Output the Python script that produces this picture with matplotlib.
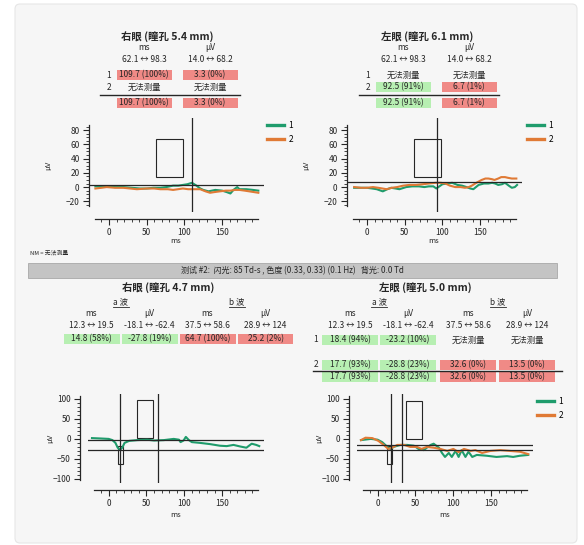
from __future__ import annotations

import matplotlib

matplotlib.use("Agg")

import matplotlib.pyplot as plt
import numpy as np
from matplotlib.lines import Line2D
from matplotlib.patches import FancyBboxPatch, Rectangle

plt.rcParams["font.family"] = ["Noto Sans CJK SC", "DejaVu Sans"]

W, H = 584, 545
INK = "#262626"
TRACE_1 = "#1f9c6c"
TRACE_2 = "#e07a35"
BAD = "#f08a86"
OK = "#b7efb2"

# ---- flash response traces (ms, uV) ----
od_flash_ms_1 = [-18, -4, 8, 19, 30, 41, 50, 59, 68, 76, 85, 92, 98, 104, 110, 116, 121, 125, 132, 141, 150, 156, 161, 165, 170, 173, 182, 191, 198]
od_flash_uv_1 = [1, 1, 0, 0, -1, -2, -2, -1, -1, 0, 2, 2, 3, 4, 6, 2, -2, -4, -6, -4, -5, -7, -9, -4, 0, -3, -3, -4, -5]
od_flash_ms_2 = [-18, -10, -3, 8, 19, 28, 37, 50, 60, 68, 78, 85, 98, 105, 112, 121, 128, 134, 140, 147, 155, 161, 167, 173, 180, 186, 192, 198]
od_flash_uv_2 = [-2, -1, 0, -1, -1, -2, -3, -2, -2, -3, -3, -4, -2, -3, -3, -3, -6, -8, -7, -6, -5, -5, -4, -4, -5, -6, -7, -8]

os_flash_ms_1 = [-17, -8, 0, 7, 13, 21, 27, 32, 38, 43, 52, 60, 69, 76, 82, 88, 92, 96, 100, 106, 113, 120, 126, 132, 137, 141, 148, 155, 161, 166, 170, 174, 179, 183, 188, 192, 196, 199]
os_flash_uv_1 = [-1, -1, -1, -2, -3, -6, -3, -1, -2, -3, 0, 1, 1, 0, 1, 1, -2, 1, 4, 5, 6, 3, 2, 0, -2, -3, 3, 5, 5, 6, 5, 3, 4, 6, 2, -1, 0, 3]
os_flash_ms_2 = [-17, -8, 0, 8, 15, 26, 33, 40, 48, 56, 65, 74, 82, 91, 98, 104, 110, 117, 124, 130, 135, 139, 145, 152, 157, 161, 166, 169, 174, 178, 183, 187, 192, 198]
os_flash_uv_2 = [0, -1, -1, 0, -1, -3, -1, 0, 2, 3, 3, 4, 5, 6, 6, 5, 2, 0, 0, -1, 0, 2, 6, 10, 12, 12, 11, 10, 12, 14, 14, 13, 12, 12]

# ---- a/b wave traces (ms, uV) ----
od_ab_ms_1 = [-22, -10, 0, 5, 9, 12, 15, 18, 21, 27, 38, 51, 60, 73, 86, 93, 95, 99, 102, 106, 110, 121, 134, 147, 156, 165, 174, 182, 189, 195, 199]
od_ab_uv_1 = [2, 1, 0, -3, -10, -22, -27, -22, -10, -5, -3, -2, -4, -3, 0, -2, -8, -4, 5, -3, -8, -10, -13, -17, -18, -15, -19, -22, -12, -15, -18]

os_ab_ms_1 = [-22, -9, 0, 6, 13, 17, 21, 30, 39, 48, 54, 61, 65, 70, 74, 81, 85, 89, 94, 98, 103, 107, 111, 116, 120, 125, 131, 144, 157, 171, 179, 188, 199]
os_ab_uv_1 = [-3, 0, -2, -8, -20, -25, -20, -15, -15, -17, -25, -28, -22, -15, -12, -22, -35, -45, -35, -45, -30, -45, -28, -45, -32, -45, -40, -42, -45, -43, -45, -42, -40]
os_ab_ms_2 = [-22, -16, -7, 1, 8, 14, 19, 26, 35, 43, 52, 58, 65, 74, 83, 92, 100, 107, 114, 123, 129, 138, 149, 162, 175, 188, 199]
os_ab_uv_2 = [-3, 3, 2, -5, -15, -25, -22, -15, -15, -20, -20, -25, -20, -22, -25, -30, -25, -33, -25, -30, -28, -35, -30, -28, -30, -32, -38]

# ---- measurement markers ----
flash_norm_ms = (62.1, 98.3)
flash_norm_uv = (14.0, 68.2)
od_flash_peak = (109.7, 3.3)
os_flash_peak = (92.5, 6.7)

a_norm_ms = (12.3, 19.5)
a_norm_uv = (-18.1, -62.4)
b_norm_ms = (37.5, 58.6)
b_norm_uv = (28.9, 124.0)
od_ab_times = (14.8, 64.7)
od_ab_amps = (-27.8, 25.2)
os_ab_times = (17.7, 32.6)
os_ab_amps = (-28.8, 13.5)

# ---- tables ----
flash_units = ["ms", "μV"]
flash_ranges = ["62.1 ↔ 98.3", "14.0 ↔ 68.2"]
od_flash_title = "右眼 (瞳孔 5.4 mm)"
od_flash_rows = [["109.7 (100%)", "3.3 (0%)"], ["无法测量", "无法测量"], ["109.7 (100%)", "3.3 (0%)"]]
od_flash_state = [[BAD, BAD], [None, None], [BAD, BAD]]
os_flash_title = "左眼 (瞳孔 6.1 mm)"
os_flash_rows = [["无法测量", "无法测量"], ["92.5 (91%)", "6.7 (1%)"], ["92.5 (91%)", "6.7 (1%)"]]
os_flash_state = [[None, None], [OK, BAD], [OK, BAD]]

ab_units = ["ms", "μV", "ms", "μV"]
ab_ranges = ["12.3 ↔ 19.5", "-18.1 ↔ -62.4", "37.5 ↔ 58.6", "28.9 ↔ 124"]
od_ab_title = "右眼 (瞳孔 4.7 mm)"
od_ab_rows = [["14.8 (58%)", "-27.8 (19%)", "64.7 (100%)", "25.2 (2%)"]]
od_ab_state = [[OK, OK, BAD, BAD]]
os_ab_title = "左眼 (瞳孔 5.0 mm)"
os_ab_rows = [["18.4 (94%)", "-23.2 (10%)", "无法测量", "无法测量"],
              ["17.7 (93%)", "-28.8 (23%)", "32.6 (0%)", "13.5 (0%)"],
              ["17.7 (93%)", "-28.8 (23%)", "32.6 (0%)", "13.5 (0%)"]]
os_ab_state = [[OK, OK, None, None], [OK, OK, BAD, BAD], [OK, OK, BAD, BAD]]

banner = "测试 #2:  闪光: 85 Td-s , 色度 (0.33, 0.33) (0.1 Hz)   背光: 0.0 Td"

fig = plt.figure(figsize=(W / 100, H / 100), dpi=100)
fig.patch.set_facecolor("white")
fig.add_artist(FancyBboxPatch((0.15, 0.02), 5.62, 5.39, boxstyle="round,pad=0,rounding_size=0.05",
                              transform=fig.dpi_scale_trans, fc="#f6f6f6", ec="#e6e6e6", lw=0.8, zorder=-10))


def fxy(x: float, y: float) -> tuple[float, float]:
    return x / W, 1 - y / H


def txt(x: float, y: float, s: str, size: float = 6.0, **kw) -> None:
    kw.setdefault("ha", "center")
    fig.text(*fxy(x, y), s, va="center", fontsize=size, color=INK, **kw)


def hline(x0: float, x1: float, y: float, lw: float = 1.0) -> None:
    fig.add_artist(Line2D([x0 / W, x1 / W], [1 - y / H] * 2, transform=fig.transFigure, color=INK, lw=lw))


def cell(xc: float, y: float, s: str, color: str | None, w: float = 55, h: float = 10) -> None:
    if color:
        fig.add_artist(Rectangle(fxy(xc - w / 2, y + h / 2), w / W, h / H, transform=fig.transFigure,
                                 fc=color, ec="none", zorder=0))
    txt(xc, y, s)


def flash_table(cx: float, cols: list[float], num_x: float, title: str, rows, state) -> None:
    txt(cx, 37, title, size=7.5, weight="bold")
    for xc, unit, rng in zip(cols, flash_units, flash_ranges):
        txt(xc, 48, unit)
        txt(xc, 60, rng)
    for r, y in enumerate([75, 87, 103]):
        if r < 2:
            txt(num_x, y, str(r + 1))
        for xc, s, c in zip(cols, rows[r], state[r]):
            cell(xc, y, s, c)
    hline(num_x - 9, cols[-1] + 30, 95)


def ab_table(cx: float, cols: list[float], title: str, rows, state, row_y, num_x=None) -> None:
    txt(cx, 288, title, size=7.5, weight="bold")
    for i, wave in enumerate(["a 波", "b 波"]):
        xc = (cols[2 * i] + cols[2 * i + 1]) / 2
        txt(xc, 302, wave)
        hline(xc - 8, xc + 8, 307, lw=0.6)
    for xc, unit, rng in zip(cols, ab_units, ab_ranges):
        txt(xc, 313, unit)
        txt(xc, 326, rng)
    for r, y in enumerate(row_y):
        if num_x is not None and r < 2:
            txt(num_x, y, str(r + 1))
        for xc, s, c in zip(cols, rows[r], state[r]):
            cell(xc, y, s, c, w=56)


def make_axes(left: float, top: float, width: float, height: float) -> plt.Axes:
    return fig.add_axes([left / W, 1 - (top + height) / H, width / W, height / H])


def style_axes(ax, ylim, ybounds, ymajor, yminor, yoffset, label_x, label_y) -> None:
    ax.patch.set_alpha(0)
    ax.set_xlim(-27, 205)
    ax.set_ylim(*ylim)
    for side in ("top", "right"):
        ax.spines[side].set_visible(False)
    ax.spines["bottom"].set_bounds(-19, 197)
    ax.spines["bottom"].set_position(("outward", 5))
    ax.spines["left"].set_bounds(*ybounds)
    ax.spines["left"].set_position(("outward", yoffset))
    for sp in ax.spines.values():
        sp.set_color(INK)
        sp.set_linewidth(0.9)
    ax.set_xticks([0, 50, 100, 150])
    ax.set_xticks(np.arange(-10, 200, 10), minor=True)
    ax.set_yticks(ymajor)
    ax.set_yticks(yminor, minor=True)
    ax.tick_params(which="major", length=4.5, width=0.8, labelsize=6, pad=2, colors=INK)
    ax.tick_params(which="minor", length=2.5, width=0.6, colors=INK)
    ax.set_xlabel("ms", fontsize=5.5, color=INK)
    ax.set_ylabel("μV", fontsize=5.5, color=INK)
    bb = ax.get_position()
    ax.xaxis.set_label_coords(0.5, (1 - label_y / H - bb.y0) / bb.height)
    ax.yaxis.set_label_coords((label_x / W - bb.x0) / bb.width, 0.5)


def add_legend(ax, x: float, y: float) -> None:
    leg = ax.legend(loc="upper left", bbox_to_anchor=fxy(x, y), bbox_transform=fig.transFigure,
                    frameon=False, fontsize=6, handlelength=2.0, handletextpad=0.6,
                    labelspacing=0.6, borderpad=0, borderaxespad=0)
    for line in leg.get_lines():
        line.set_linewidth(2.4)


def box(ax, ms, uv) -> None:
    ax.add_patch(Rectangle((ms[0], min(uv)), ms[1] - ms[0], abs(uv[1] - uv[0]),
                           fill=False, ec=INK, lw=0.8))


# ---- top tables ----
flash_table(167, [144, 210], 109, od_flash_title, od_flash_rows, od_flash_state)
flash_table(427, [403, 469], 368, os_flash_title, os_flash_rows, os_flash_state)

# ---- flash plots ----
for left, peak, traces, legend in [
    (88.6, od_flash_peak, [(od_flash_ms_1, od_flash_uv_1), (od_flash_ms_2, od_flash_uv_2)], 267),
    (346.6, os_flash_peak, [(os_flash_ms_1, os_flash_uv_1), (os_flash_ms_2, os_flash_uv_2)], 527),
]:
    ax = make_axes(left, 118, 175, 94)
    style_axes(ax, (-35, 97), (-27, 87), np.arange(-20, 81, 20), np.arange(-25, 86, 5), 0, left - 36, 237)
    for (ms, uv), color, lab in zip(traces, [TRACE_1, TRACE_2], ["1", "2"]):
        ax.plot(ms, uv, color=color, lw=1.5, label=lab)
    ax.axvline(peak[0], color=INK, lw=0.9)
    ax.axhline(peak[1], color=INK, lw=0.9)
    box(ax, flash_norm_ms, flash_norm_uv)
    add_legend(ax, legend, 121)

# ---- middle banner ----
txt(30, 253, "NM = 无法测量", size=4.2, ha="left")
fig.add_artist(Rectangle(fxy(28, 278), 529 / W, 15 / H, transform=fig.transFigure,
                         fc="#c4c4c4", ec="#a8a8a8", lw=0.6))
txt(292, 270.5, banner, size=5.8)

# ---- bottom tables ----
ab_table(168, [91.5, 149.5, 207.5, 265.5], od_ab_title, od_ab_rows, od_ab_state, [338.5])
ab_table(425, [350, 408, 468, 527], os_ab_title, os_ab_rows, os_ab_state, [340, 364.5, 376.5], num_x=316)
hline(313, 562, 370.5)

# ---- a/b plots ----
for left, times, amps, traces in [
    (88.2, od_ab_times, od_ab_amps, [(od_ab_ms_1, od_ab_uv_1)]),
    (357.2, os_ab_times, os_ab_amps, [(os_ab_ms_1, os_ab_uv_1), (os_ab_ms_2, os_ab_uv_2)]),
]:
    ax = make_axes(left, 394, 175.6, 89)
    style_axes(ax, (-110, 112), (-103, 106), np.arange(-100, 101, 50), np.arange(-100, 101, 10), 6, left - 34, 511)
    for (ms, uv), color, lab in zip(traces, [TRACE_1, TRACE_2], ["1", "2"]):
        ax.plot(ms, uv, color=color, lw=1.5, label=lab)
    a_trough, b_amp = amps
    for t in times:
        ax.axvline(t, color=INK, lw=0.9)
    ax.axhline(a_trough, color=INK, lw=0.9)
    ax.axhline(a_trough + b_amp, color=INK, lw=0.9)
    box(ax, a_norm_ms, a_norm_uv)
    box(ax, b_norm_ms, (a_trough + b_norm_uv[0], a_trough + b_norm_uv[1]))
    if len(traces) > 1:
        add_legend(ax, 537, 397)

fig.savefig("out.png", dpi=100, facecolor="white")
